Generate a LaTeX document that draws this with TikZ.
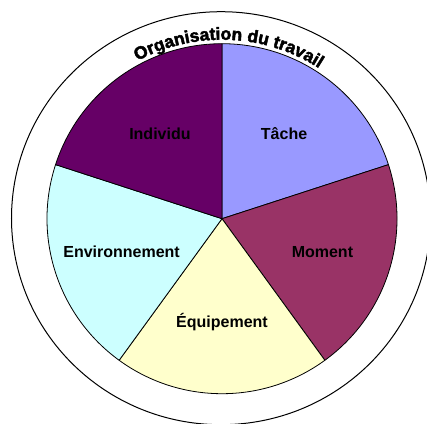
\documentclass[tikz,border=0pt]{standalone}
\usepackage{fontspec}
\setmainfont{Liberation Sans}
\newfontfamily\titlefont[FakeBold=2.5]{Liberation Sans Bold}
\usepackage{xcolor}
\usetikzlibrary{decorations.text}

\definecolor{tachecol}{HTML}{9999FF}
\definecolor{momentcol}{HTML}{993366}
\definecolor{equipcol}{HTML}{FFFFCC}
\definecolor{environcol}{HTML}{CCFFFF}
\definecolor{individucol}{HTML}{660066}

\begin{document}
\begin{tikzpicture}[x=1pt, y=1pt,
        slice/.style={draw=black, line width=0.8pt, line join=round},
        part/.style={font=\bfseries\fontsize{16}{16}\selectfont, text height=11.5pt, text depth=0pt, inner sep=0pt}]
        % Frame of the page
        \clip (-222,-204.3) rectangle (205,218.7);
        % Centre of the pie
        \coordinate (C) at (0,0);

        % Drawing the slices
        \filldraw[slice, fill=tachecol] (C) -- (90:175) arc (90:18:175) -- cycle;
        \filldraw[slice, fill=momentcol] (C) -- (18:175) arc (18:-54:175) -- cycle;
        \filldraw[slice, fill=equipcol] (C) -- (-54:175) arc (-54:-126:175) -- cycle;
        \filldraw[slice, fill=environcol] (C) -- (-126:175) arc (-126:-198:175) -- cycle;
        \filldraw[slice, fill=individucol] (C) -- (162:175) arc (162:90:175) -- cycle;

        % Labeling the slices
        \node[part] (tache) at (54:105.6) {Tâche};
        \node[part] (moment) at (-18:105.6) {Moment};
        \node[part] (equip) at (-90:103) {Équipement};
        \node[part] (environ) at (198:105.6) {Environnement};
        \node[part] (individu) at (126:105.6) {Individu};

        % Outer ring and its title
        \draw[line width=1pt] (-1,0.5) ellipse [x radius=209.5, y radius=206.5];
        \path[decorate, decoration={text along path, text align=center,
            text={|\titlefont\fontsize{17.5}{17.5}\selectfont|Organisation du travail}}]
            (127.7:179) arc (127.7:47.7:179);
    \end{tikzpicture}
\end{document}
